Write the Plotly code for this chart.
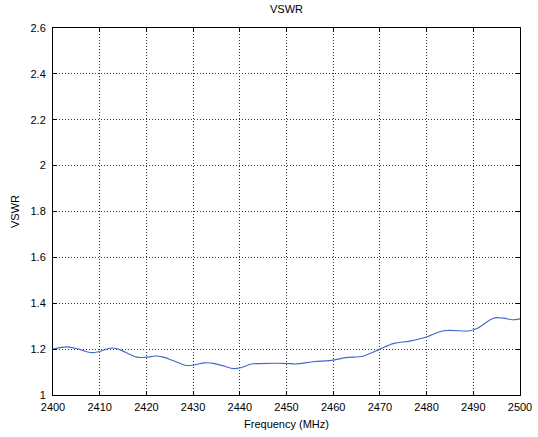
import plotly.graph_objects as go

freq = [2400, 2403, 2405.5, 2408, 2410, 2412.5, 2414, 2418, 2420, 2422, 2423.6, 2425.7, 2428.3,
        2430, 2432.5, 2434.3, 2436.8, 2438.6, 2440.4, 2442.5, 2444, 2451, 2452, 2455.7, 2460,
        2462.6, 2466.5, 2470, 2473, 2476.4, 2480, 2483.6, 2489.3, 2491, 2494.3, 2496.5, 2498.3, 2500]
vswr = [1.20, 1.21, 1.20, 1.185, 1.19, 1.205, 1.20, 1.165, 1.165, 1.17, 1.165, 1.15, 1.13,
        1.13, 1.14, 1.138, 1.125, 1.115, 1.12, 1.135, 1.137, 1.137, 1.135, 1.145, 1.152,
        1.163, 1.17, 1.20, 1.225, 1.235, 1.253, 1.28, 1.28, 1.292, 1.335, 1.335, 1.328, 1.332]

x_ticks = list(range(2400, 2501, 10))
y_ticks = [1, 1.2, 1.4, 1.6, 1.8, 2, 2.2, 2.4, 2.6]
y_labels = ["1", "1.2", "1.4", "1.6", "1.8", "2", "2.2", "2.4", "2.6"]

fig = go.Figure(go.Scatter(x=freq, y=vswr, mode="lines", line=dict(color="#4169c8", width=1.1),
                           line_shape="spline"))

axis_common = dict(showline=True, linecolor="black", linewidth=1, mirror="ticks",
                   ticks="inside", ticklen=4, tickcolor="black", automargin=False,
                   showgrid=True, gridcolor="#333333", griddash="1px,2px", gridwidth=1,
                   zeroline=False, tickfont=dict(size=11, color="black"))

fig.update_layout(
    width=538, height=437,
    margin=dict(l=53, r=18, t=28, b=42),
    paper_bgcolor="white", plot_bgcolor="white",
    font=dict(family="Liberation Sans, Arial, sans-serif", size=11, color="black"),
    title=dict(text="VSWR", x=0.5, xref="paper", xanchor="center", y=0.988, yanchor="top",
               font=dict(size=11)),
    showlegend=False,
    xaxis=dict(range=[2400, 2500], tickvals=x_ticks, ticklabelstandoff=2,
               title=dict(text="Frequency (MHz)", standoff=8, font=dict(size=11)), **axis_common),
    yaxis=dict(range=[1, 2.6], tickvals=y_ticks, ticktext=y_labels, ticklabelstandoff=4,
               title=dict(text="VSWR", standoff=8, font=dict(size=11)), **axis_common),
)

fig.write_html("out.html", config={"displayModeBar": False},
               post_script="document.body.style.margin='0';document.body.style.overflow='hidden';")
